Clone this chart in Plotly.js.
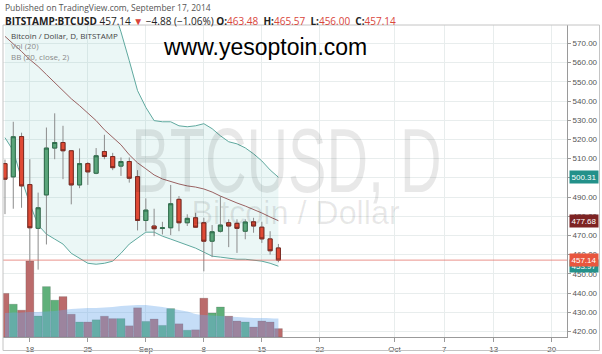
<!DOCTYPE html>
<html>
<head>
<meta charset="utf-8">
<script src="https://cdn.plot.ly/plotly-3.0.1.min.js"></script>
<style>
html,body{margin:0;padding:0;background:#fff;overflow:hidden;}
#chart{width:602px;height:354px;}
</style>
</head>
<body>
<div id="chart"></div>
<script>
// ---------------- data ----------------
const dates = ['2014-08-15','2014-08-16','2014-08-17','2014-08-18','2014-08-19','2014-08-20','2014-08-21','2014-08-22','2014-08-23','2014-08-24','2014-08-25','2014-08-26','2014-08-27','2014-08-28','2014-08-29','2014-08-30','2014-08-31',
'2014-09-01','2014-09-02','2014-09-03','2014-09-04','2014-09-05','2014-09-06','2014-09-07','2014-09-08','2014-09-09','2014-09-10','2014-09-11','2014-09-12','2014-09-13','2014-09-14','2014-09-15','2014-09-16','2014-09-17'];
const openP  = [507.4,500.5,521.5,496.5,473.7,491.1,515.5,518.4,514.1,496.3,507.4,502.4,513.7,511.1,506.1,508.5,500.6,477.8,474.9,473.6,474.0,488.8,476.6,479.2,476.6,467.0,472.2,476.6,476.3,472.2,477.1,474.3,468.2,463.48];
const highP  = [509.5,529.2,523.5,509.7,492.3,526.2,533.6,527.1,514.5,515.3,508.2,515.5,522.4,513.0,510.6,510.6,504.0,489.3,483.9,477.1,496.3,490.5,481.0,481.8,479.2,475.4,490.5,478.4,478.4,478.4,479.2,477.1,472.2,465.57];
const lowP   = [481.1,483.9,484.4,455.5,452.2,465.3,509.7,499.3,486.2,494.6,496.3,501.9,509.7,504.0,501.0,497.5,472.6,472.2,469.6,470.5,470.2,472.2,474.9,474.0,451.3,458.7,471.5,463.9,460.9,468.0,471.4,466.1,460.0,456.00];
const closeP = [499.3,521.4,495.8,474.0,484.4,515.5,518.4,514.1,496.3,507.4,503.1,511.5,511.1,505.3,508.5,499.8,477.8,483.2,473.5,474.0,486.5,476.6,478.9,474.3,467.0,471.9,475.4,474.9,473.7,477.0,474.9,468.2,462.02,457.14];
const bbUpper  = [625,622,618,614,610,607,604,602,600,598,596,594,592,589,576,561,545.4,536.7,529.8,529.2,529.2,527.1,526.6,527.1,528.2,525.6,521.9,518.8,517.7,515.6,512.5,508.8,504.1,500.31];
const bbMiddle = [573.7,570.0,565.8,561.6,558.0,553.8,549.6,545.4,541.2,537.6,533.9,529.8,525.0,520.9,517.2,512.0,507.8,504.7,501.5,499.4,497.9,496.8,495.8,495.2,494.2,492.6,490.5,488.5,486.9,485.3,483.7,481.7,479.6,477.68];
const bbLower  = [520.9,514.1,499.4,486.4,475.4,470.7,468.1,465.5,460.7,458.1,455.5,455.0,455.5,456.6,460.7,465.5,468.6,471.7,471.7,469.6,468.1,466.5,464.9,463.4,461.3,459.2,458.7,458.1,457.6,457.6,457.1,456.6,455.5,453.97];
const volume   = [10900,8200,6700,19000,5250,12600,9200,10100,5700,3750,3750,4300,5200,4600,4600,2800,7300,3900,4500,2900,7100,3300,1700,1800,9700,6000,7500,5200,4000,3750,2500,4000,3750,2100];
const volumeMA = [6000,6100,6100,6250,6250,6400,6500,6750,7000,7100,7250,7250,7400,7500,7750,7900,8000,8000,7750,7500,7100,6750,6400,5750,5500,5400,5250,5100,5000,4900,4750,4750,4700,4600];
const tickDates  = ['2014-08-18','2014-08-25','2014-09-01','2014-09-08','2014-09-15','2014-09-22','2014-10-01','2014-10-07','2014-10-13','2014-10-20'];
const tickLabels = ['18','25','Sep','8','15','22','Oct','7','13','20'];

// ---------------- layout helpers ----------------
const W = 602, H = 354;
const PL = 3, PR = 567, PT = 25, PB = 337;
const px2x = p => (p - PL) / (PR - PL);
const py2y = p => (PB - p) / (PB - PT);

const RED = '#e04a35', GREEN = '#5aa57a';
const isUp = openP.map((o, i) => closeP[i] >= o);
const bodyHigh = openP.map((o, i) => Math.max(o, closeP[i]));
const bodyLow  = openP.map((o, i) => Math.min(o, closeP[i]));

const last = dates.length - 1;
const lastClose = closeP[last];
const chg = lastClose - closeP[last - 1];
const chgPct = chg / closeP[last - 1] * 100;
const fmt = v => v.toFixed(2);
const minus = v => (v < 0 ? '\u2212' + fmt(-v) : fmt(v));
const NB = '\u00a0';

const traces = [
  // Bollinger band fill + lines (main y)
  {type:'scatter', mode:'lines', x:dates, y:bbUpper, line:{color:'#5fa99f', width:1}, hoverinfo:'skip', xaxis:'x', yaxis:'y'},
  {type:'scatter', mode:'lines', x:dates, y:bbLower, line:{color:'#5fa99f', width:1}, fill:'tonexty', fillcolor:'rgba(120,200,195,0.15)', hoverinfo:'skip', xaxis:'x', yaxis:'y'},
  {type:'scatter', mode:'lines', x:dates, y:bbMiddle, line:{color:'#9a6262', width:1}, hoverinfo:'skip', xaxis:'x', yaxis:'y'},
  // volume (y2)
  {type:'bar', x:dates, y:volume, marker:{color:isUp.map(u => u ? '#5fb07a' : '#bb6b6b'), line:{color:'rgba(60,60,60,0.35)', width:0.5}}, xaxis:'x', yaxis:'y2', hoverinfo:'skip'},
  {type:'scatter', mode:'lines', x:dates, y:volumeMA, line:{width:0, shape:'spline'}, fill:'tozeroy', fillcolor:'rgba(110,170,235,0.40)', xaxis:'x', yaxis:'y2', hoverinfo:'skip'},
  // candles: wicks (y3)
  {type:'candlestick', x:dates, open:openP, high:highP, low:lowP, close:closeP, xaxis:'x', yaxis:'y3',
   increasing:{line:{color:'#8c8c8c', width:1}, fillcolor:GREEN}, decreasing:{line:{color:'#8c8c8c', width:1}, fillcolor:RED}, whiskerwidth:0, hoverinfo:'skip'},
  // candles: bodies
  {type:'candlestick', x:dates, open:openP, high:bodyHigh, low:bodyLow, close:closeP, xaxis:'x', yaxis:'y3',
   increasing:{line:{color:'#2f6e4c', width:1}, fillcolor:GREEN}, decreasing:{line:{color:'#7a2a22', width:1}, fillcolor:RED}, whiskerwidth:0, hoverinfo:'skip'}
];

const yRange = [417.1, 579.6];
const FAM = '"Open Sans", "Liberation Sans", Arial, sans-serif';
const SANS = '"Liberation Sans", Arial, sans-serif';
const redVal = s => '<span style="color:#d9453b">' + s + '</span>';

const annotations = [
  {xref:'paper', yref:'paper', x:px2x(3), y:py2y(8), xanchor:'left', yanchor:'middle', showarrow:false,
   text:'Published on TradingView.com, September 17, 2014', font:{family:FAM, size:8.5, color:'#555'}},
  {xref:'paper', yref:'paper', x:px2x(3), y:py2y(21), xanchor:'left', yanchor:'middle', showarrow:false,
   text:'<b>BITSTAMP:BTCUSD</b> ' + fmt(lastClose) + ' ' + redVal('\u25BC') + ' ' + minus(chg) + ' (' + minus(chgPct) + '%) ' +
        '<b>O:</b>' + redVal(fmt(openP[last])) + NB + NB + '<b>H:</b>' + redVal(fmt(highP[last])) + NB + NB + '<b>L:</b>' + redVal(fmt(lowP[last])) + NB + NB + '<b>C:</b>' + redVal(fmt(closeP[last])),
   font:{family:FAM, size:10, color:'#222'}},
  {xref:'paper', yref:'paper', x:px2x(9), y:py2y(35), xanchor:'left', yanchor:'middle', showarrow:false,
   text:'Bitcoin / Dollar, D, BITSTAMP', font:{family:FAM, size:8, color:'#444'}},
  {xref:'paper', yref:'paper', x:px2x(9), y:py2y(46), xanchor:'left', yanchor:'middle', showarrow:false,
   text:'Vol (20)', font:{family:FAM, size:8, color:'#8a8a8a'}},
  {xref:'paper', yref:'paper', x:px2x(9), y:py2y(57), xanchor:'left', yanchor:'middle', showarrow:false,
   text:'BB (20, close, 2)', font:{family:FAM, size:8, color:'#8a8a8a'}},
  // watermarks
  {xref:'paper', yref:'paper', x:px2x(286), y:py2y(161), xanchor:'center', yanchor:'middle', showarrow:false,
   text:'BTCUSD, D', font:{family:SANS, size:90, color:'rgba(0,0,0,0.09)'}},
  {xref:'paper', yref:'paper', x:px2x(296), y:py2y(212), xanchor:'center', yanchor:'middle', showarrow:false,
   text:'Bitcoin / Dollar', font:{family:SANS, size:34, color:'rgba(0,0,0,0.09)'}},
  // site overlay
  {xref:'paper', yref:'paper', x:px2x(265), y:py2y(47), xanchor:'center', yanchor:'middle', showarrow:false,
   text:'www.yesoptoin.com', font:{family:SANS, size:23, color:'#000'}},
  // price boxes on the right axis
  {xref:'paper', yref:'y', x:1, xshift:2, y:bbLower[last], xanchor:'left', yanchor:'middle', showarrow:false,
   text:fmt(bbLower[last]), bgcolor:'#23918a', borderpad:1.5, font:{family:SANS, size:8, color:'#fff'}},
  {xref:'paper', yref:'y', x:1, xshift:2, y:bbUpper[last], xanchor:'left', yanchor:'middle', showarrow:false,
   text:fmt(bbUpper[last]), bgcolor:'#23918a', borderpad:1.5, font:{family:SANS, size:8, color:'#fff'}},
  {xref:'paper', yref:'y', x:1, xshift:2, y:bbMiddle[last], xanchor:'left', yanchor:'middle', showarrow:false,
   text:fmt(bbMiddle[last]), bgcolor:'#7d2323', borderpad:1.5, font:{family:SANS, size:8, color:'#fff'}},
  {xref:'paper', yref:'y', x:1, xshift:2, y:lastClose, xanchor:'left', yanchor:'middle', showarrow:false,
   text:fmt(lastClose), bgcolor:'#e8563e', borderpad:1.5, font:{family:SANS, size:8, color:'#fff'}}
];

const shapes = [
  {type:'line', xref:'paper', yref:'y', x0:0, x1:1, y0:lastClose, y1:lastClose, line:{color:'rgba(225,100,90,0.7)', width:1}},
  {type:'rect', xref:'paper', yref:'paper', x0:px2x(3), x1:px2x(599.5), y0:py2y(350.5), y1:py2y(25), line:{color:'#c4c4c4', width:1}, fillcolor:'rgba(0,0,0,0)'}
];

const layout = {
  width:W, height:H,
  margin:{l:PL, r:W - PR, t:PT, b:H - PB, pad:0},
  paper_bgcolor:'#fff', plot_bgcolor:'#fff',
  showlegend:false,
  hovermode:false,
  bargap:0.04,
  xaxis:{type:'date', range:['2014-08-14 18:14','2014-10-21 20:00'], tickvals:tickDates, ticktext:tickLabels,
    ticks:'outside', ticklen:4, tickcolor:'#9a9a9a', showline:true, linecolor:'#9a9a9a', linewidth:1,
    showgrid:true, gridcolor:'#e8eded', gridwidth:1, zeroline:false,
    tickfont:{family:SANS, size:8, color:'#555'},
    rangeslider:{visible:false}, fixedrange:true},
  yaxis:{range:yRange, autorange:false, side:'right', dtick:10, tick0:0, tickformat:'.2f',
    ticks:'outside', ticklen:3, tickcolor:'#9a9a9a', showline:true, linecolor:'#9a9a9a', linewidth:1,
    showgrid:true, gridcolor:'#e8eded', gridwidth:1, zeroline:false,
    tickfont:{family:SANS, size:8, color:'#555'}, fixedrange:true},
  yaxis2:{overlaying:'y', range:[0, 78000], autorange:false, visible:false, fixedrange:true},
  yaxis3:{overlaying:'y', range:yRange, autorange:false, visible:false, fixedrange:true},
  annotations:annotations,
  shapes:shapes
};

Plotly.newPlot('chart', traces, layout, {staticPlot:true, displayModeBar:false}).then(() => {
  const squeeze = {'BTCUSD, D':0.64, 'Bitcoin / Dollar':0.95};
  document.querySelectorAll('text.annotation-text').forEach(t => {
    const s = squeeze[t.textContent];
    if (s) {
      const b = t.getBBox();
      const cx = b.x + b.width / 2;
      t.setAttribute('transform', 'translate(' + cx + ',0) scale(' + s + ',1) translate(' + (-cx) + ',0)');
    }
  });
});
</script>
</body>
</html>
